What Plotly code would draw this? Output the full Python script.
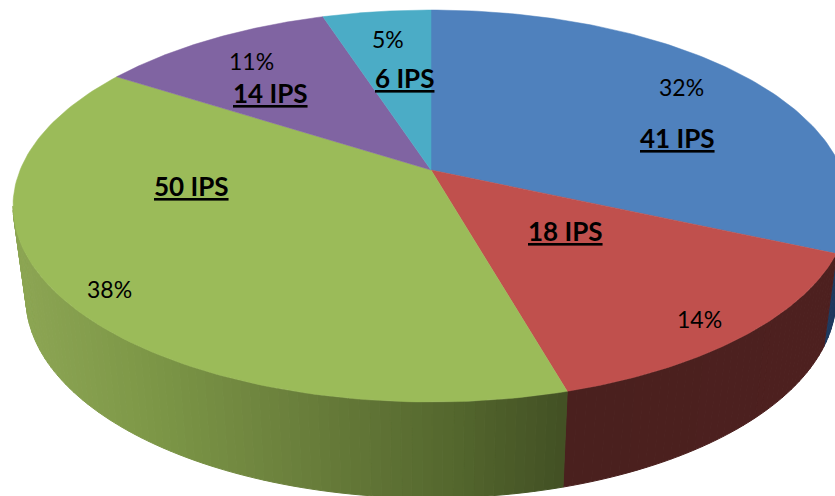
import numpy as np
import plotly.graph_objects as go

# ---- data ----
ips_labels = ["41 IPS", "18 IPS", "50 IPS", "14 IPS", "6 IPS"]
pct_labels = ["32%", "14%", "38%", "11%", "5%"]
slice_shares = [31.7, 13.9, 38.5, 10.9, 5.0]

# ---- style / layout ----
top_colors = ["#4f81bd", "#c0504d", "#9bbb59", "#8064a2", "#4bacc6"]
W, H = 835, 496
TOP = dict(cx=431, cy=206, rx=418, ry=196)
BOT = dict(cx=431, cy=298, rx=405, ry=200)
APEX = 36 / 196
ips_pos = [(677, 138), (565, 231), (191, 186), (270, 93), (404, 78)]
pct_pos = [(681, 87), (699, 319), (109, 289), (251, 61), (388, 39)]
FONT = "Lato, Carlito, Calibri, sans-serif"

green_x = [13, 150, 300, 450, 570]
green_rgb = [(141, 166, 84), (125, 151, 71), (106, 127, 60), (85, 104, 46), (66, 80, 36)]
red_x = [565, 835]
red_rgb = [(74, 32, 30), (78, 32, 32)]
blue_x = [800, 835]
blue_rgb = [(31, 58, 95), (31, 58, 95)]
side_ramps = {0: (blue_x, blue_rgb), 1: (red_x, red_rgb), 2: (green_x, green_rgb)}


def norm_point(theta):
    s, c = np.sin(theta), np.cos(theta)
    d = 1 + APEX * s
    return np.sqrt(1 - APEX ** 2) * c / d, (s + APEX) / d


def place(nx, ny, e):
    return e["cx"] + e["rx"] * nx, e["cy"] - e["ry"] * ny


def ramp(x, stops):
    xs, cols = stops
    return "rgb(%d,%d,%d)" % tuple(np.interp(x, xs, [c[i] for c in cols]) for i in range(3))


bounds = np.cumsum([0] + slice_shares) / sum(slice_shares)
fig = go.Figure()

# front wall
for i in range(len(slice_shares)):
    steps = max(6, int(slice_shares[i] * 3)) + 1
    th = np.radians(90 - 360 * np.linspace(bounds[i], bounds[i + 1], steps))
    for a, b in zip(th[:-1], th[1:]):
        n0, n1 = norm_point(a), norm_point(b)
        if n0[1] + n1[1] >= 0 or i not in side_ramps:
            continue
        p0, p1 = place(*n0, TOP), place(*n1, TOP)
        q0, q1 = place(*n0, BOT), place(*n1, BOT)
        col = ramp((p0[0] + p1[0]) / 2, side_ramps[i])
        fig.add_trace(go.Scatter(
            x=[p0[0], p1[0], q1[0], q0[0], p0[0]],
            y=[p0[1], p1[1], q1[1], q0[1], p0[1]],
            mode="lines", fill="toself", fillcolor=col,
            line=dict(color=col, width=1), hoverinfo="skip",
        ))

# top face
ax, ay = place(0, APEX, TOP)
for i, col in enumerate(top_colors):
    th = np.radians(90 - 360 * np.linspace(bounds[i], bounds[i + 1], 120))
    px, py = place(*norm_point(th), TOP)
    fig.add_trace(go.Scatter(
        x=[ax, *px, ax], y=[ay, *py, ay],
        mode="lines", fill="toself", fillcolor=col,
        line=dict(color=col, width=0.5), hoverinfo="skip",
    ))

for txt, (x, y) in zip(ips_labels, ips_pos):
    fig.add_annotation(x=x, y=y, text=f"<b>{txt}</b>", showarrow=False,
                       font=dict(family=FONT, size=26, color="black", lineposition="under"))
for txt, (x, y) in zip(pct_labels, pct_pos):
    fig.add_annotation(x=x, y=y, text=txt, showarrow=False,
                       font=dict(family=FONT, size=23, color="black"))

fig.update_layout(
    width=W, height=H, margin=dict(l=0, r=0, t=0, b=0),
    paper_bgcolor="white", plot_bgcolor="white", showlegend=False,
    xaxis=dict(range=[0, W], visible=False, fixedrange=True),
    yaxis=dict(range=[H, 0], visible=False, fixedrange=True),
)
fig.write_html(
    "out.html",
    config={"displayModeBar": False},
    post_script="document.body.style.margin='0';document.body.style.overflow='hidden';",
)
